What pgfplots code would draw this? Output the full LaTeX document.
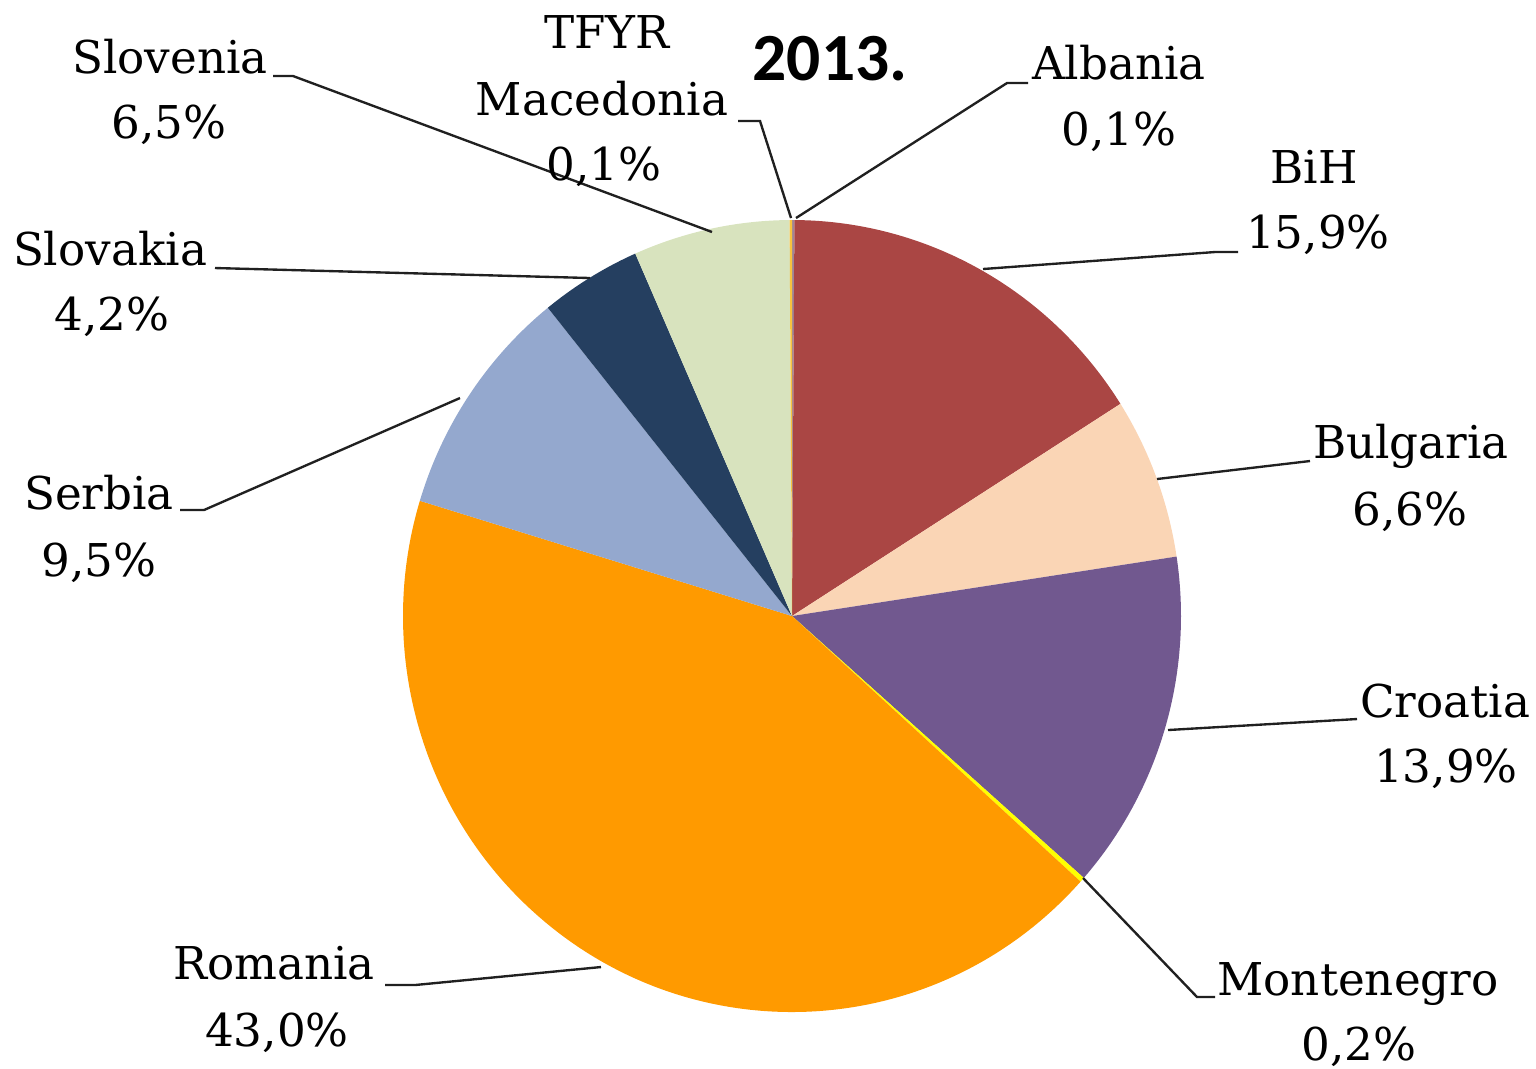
\documentclass[border=0pt]{standalone}
\usepackage{fontspec}
\usepackage{xcolor}
\usepackage{pgfplots}
\usepackage{pgfplotstable}
\pgfplotsset{compat=1.18}

\newfontfamily\labfont{DejaVu Serif}
\newfontfamily\titlefont{Carlito}

\definecolor{cAlb}{HTML}{9E8597}
\definecolor{cBiH}{HTML}{AA4644}
\definecolor{cBul}{HTML}{FAD5B5}
\definecolor{cCro}{HTML}{71588F}
\definecolor{cMne}{HTML}{FFFF00}
\definecolor{cRou}{HTML}{FF9A00}
\definecolor{cSrb}{HTML}{94A8CE}
\definecolor{cSvk}{HTML}{253F60}
\definecolor{cSlo}{HTML}{D8E3BE}
\definecolor{cMkd}{HTML}{F8C23E}
\definecolor{leader}{HTML}{202020}

% share of each country, 2013 (clockwise from the top)
\pgfplotstableread{
name            value color
Albania         0.1   cAlb
BiH             15.9  cBiH
Bulgaria        6.6   cBul
Croatia         13.9  cCro
Montenegro      0.2   cMne
Romania         43.0  cRou
Serbia          9.5   cSrb
Slovakia        4.2   cSvk
Slovenia        6.5   cSlo
TFYR_Macedonia  0.1   cMkd
}\piedata

% one axis unit = one pixel of the 1536 px wide picture
\def\rx{4.0521cm}
\def\ry{4.125cm}

\tikzset{
    lab/.style={anchor=base, inner sep=0pt,
        font=\labfont\fontsize{13.4}{16}\selectfont},
    lead/.style={leader, line width=0.7pt},
}

\begin{document}
\begin{tikzpicture}
\begin{axis}[
    width=16cm, height=11.125cm, scale only axis,
    xmin=0, xmax=1536, ymin=0, ymax=1068,
    y dir=reverse,
    axis lines=none,
    clip=false,
]
\pgfplotstablegetrowsof{\piedata}
\pgfmathtruncatemacro\lastrow{\pgfplotsretval-1}
\def\cum{0}
\pgfplotsforeachungrouped \i in {0,...,\lastrow}{%
  \pgfplotstablegetelem{\i}{value}\of\piedata \let\val\pgfplotsretval
  \pgfplotstablegetelem{\i}{color}\of\piedata \let\col\pgfplotsretval
  \pgfmathsetmacro\sa{90-3.6*\cum}
  \pgfmathsetmacro\ea{90-3.6*(\cum+\val)}
  \pgfmathsetmacro\sx{792+389*cos(\sa)}
  \pgfmathsetmacro\sy{616-396*sin(\sa)}
  \edef\slice{\noexpand\fill[\col] (axis cs:792,616) -- (axis cs:\sx,\sy)
    arc[start angle=\sa, end angle=\ea, x radius=\rx, y radius=\ry] -- cycle;}
  \slice
  \pgfmathsetmacro\cum{\cum+\val}
}

% leader lines
\draw[lead] (axis cs:1028,83) -- (axis cs:1007,83) -- (axis cs:796,218);
\draw[lead] (axis cs:1238,252) -- (axis cs:1215,252) -- (axis cs:983,269);
\draw[lead] (axis cs:1310,461) -- (axis cs:1157,479);
\draw[lead] (axis cs:1357,719) -- (axis cs:1168,730);
\draw[lead] (axis cs:1215,997) -- (axis cs:1197,997) -- (axis cs:1083,878);
\draw[lead] (axis cs:385,985) -- (axis cs:415,985) -- (axis cs:601,967);
\draw[lead] (axis cs:180,510) -- (axis cs:204,510) -- (axis cs:460,398);
\draw[lead] (axis cs:215,268) -- (axis cs:590,278);
\draw[lead] (axis cs:273,76) -- (axis cs:293,76) -- (axis cs:712,232);
\draw[lead] (axis cs:738,121) -- (axis cs:760,121) -- (axis cs:791,218);

% labels
\node[anchor=base, inner sep=0pt, font=\titlefont\bfseries\fontsize{20}{24}\selectfont]
    at (axis cs:830,80) {2013.};
\node[lab] at (axis cs:1119,79) {Albania};
\node[lab] at (axis cs:1119,145) {0,1\%};
\node[lab] at (axis cs:1314,183) {BiH};
\node[lab] at (axis cs:1318,248) {15,9\%};
\node[lab] at (axis cs:1411,458) {Bulgaria};
\node[lab] at (axis cs:1410,525) {6,6\%};
\node[lab] at (axis cs:1445,717) {Croatia};
\node[lab] at (axis cs:1446,782) {13,9\%};
\node[lab] at (axis cs:1358,995) {Montenegro};
\node[lab] at (axis cs:1359,1060) {0,2\%};
\node[lab] at (axis cs:274,979) {Romania};
\node[lab] at (axis cs:277,1046) {43,0\%};
\node[lab] at (axis cs:99,509) {Serbia};
\node[lab] at (axis cs:99,576) {9,5\%};
\node[lab] at (axis cs:110,265) {Slovakia};
\node[lab] at (axis cs:112,330) {4,2\%};
\node[lab] at (axis cs:170,73) {Slovenia};
\node[lab] at (axis cs:169,138) {6,5\%};
\node[lab] at (axis cs:607,48) {TFYR};
\node[lab] at (axis cs:602,115) {Macedonia};
\node[lab] at (axis cs:604,180) {0,1\%};
\end{axis}
\pgfresetboundingbox
\path[use as bounding box] (current axis.south west) rectangle (current axis.north east);
\end{tikzpicture}
\end{document}
